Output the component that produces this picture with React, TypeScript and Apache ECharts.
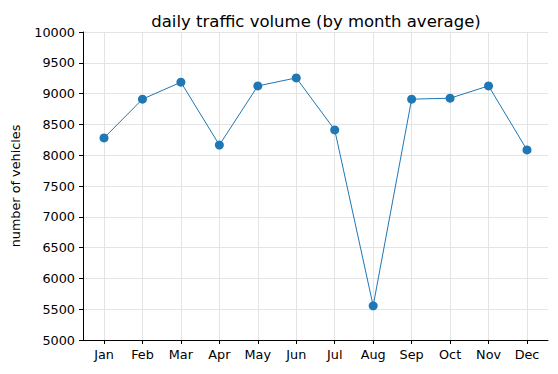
import React, { useEffect, useRef } from "react";
import * as echarts from "echarts";

const months = ["Jan", "Feb", "Mar", "Apr", "May", "Jun", "Jul", "Aug", "Sep", "Oct", "Nov", "Dec"];
const traffic = [8280, 8910, 9185, 8165, 9125, 9255, 8410, 5555, 8910, 8925, 9125, 8085];
const yMin = 5000;
const yMax = 10000;
const yStep = 500;

const FONT = "DejaVu Sans";

export default function App() {
  const ref = useRef<HTMLDivElement>(null);
  useEffect(() => {
    if (!ref.current) return;
    const chart = echarts.init(ref.current, undefined, { renderer: "svg" });
    const gridTop = 32;
    const gridBottom = 34;
    chart.setOption({
      animation: false,
      backgroundColor: "#ffffff",
      title: {
        text: "daily traffic volume (by month average)",
        left: 311,
        top: 8,
        textAlign: "center",
        textStyle: { fontFamily: FONT, fontSize: 16.5, fontWeight: "normal", color: "#000" },
      },
      grid: [
        { left: 104, right: 31, top: gridTop, bottom: gridBottom },
        { left: 83, right: 10, top: gridTop, bottom: gridBottom },
      ],
      xAxis: [
        {
          type: "category",
          gridIndex: 0,
          data: months,
          boundaryGap: false,
          axisLine: { show: false },
          axisTick: { show: true, alignWithLabel: true, length: 4, lineStyle: { color: "#000" } },
          axisLabel: { fontFamily: FONT, fontSize: 12.8, color: "#000", margin: 8, interval: 0 },
          splitLine: { show: true, lineStyle: { color: "#e4e4e4", width: 1 } },
        },
        {
          type: "value",
          gridIndex: 1,
          min: 0,
          max: 1,
          axisLine: { show: true, onZero: false, lineStyle: { color: "#000", width: 1 } },
          axisTick: { show: false },
          axisLabel: { show: false },
          splitLine: { show: false },
        },
      ],
      yAxis: [
        {
          type: "value",
          gridIndex: 0,
          min: yMin,
          max: yMax,
          interval: yStep,
          show: false,
          splitLine: { show: false },
        },
        {
          type: "value",
          gridIndex: 1,
          min: yMin,
          max: yMax,
          interval: yStep,
          name: "number of vehicles",
          nameLocation: "middle",
          nameGap: 61,
          nameTextStyle: { fontFamily: FONT, fontSize: 12.8, color: "#000" },
          axisLine: { show: true, onZero: false, lineStyle: { color: "#000", width: 1 } },
          axisTick: { show: true, length: 4, lineStyle: { color: "#000" } },
          axisLabel: {
            fontFamily: FONT,
            fontSize: 12.8,
            color: "#000",
            margin: 8,
            formatter: (v: number) => String(v),
          },
          splitLine: { show: true, lineStyle: { color: "#e4e4e4", width: 1 } },
        },
      ],
      series: [
        {
          type: "line",
          xAxisIndex: 0,
          yAxisIndex: 0,
          data: traffic,
          symbol: "circle",
          symbolSize: 9,
          itemStyle: { color: "#1f77b4" },
          lineStyle: { color: "#1f77b4", width: 1 },
          z: 5,
        },
      ],
    });
    return () => chart.dispose();
  }, []);
  return <div ref={ref} style={{ width: 558, height: 374, position: "absolute", left: 0, top: 0 }} />;
}
